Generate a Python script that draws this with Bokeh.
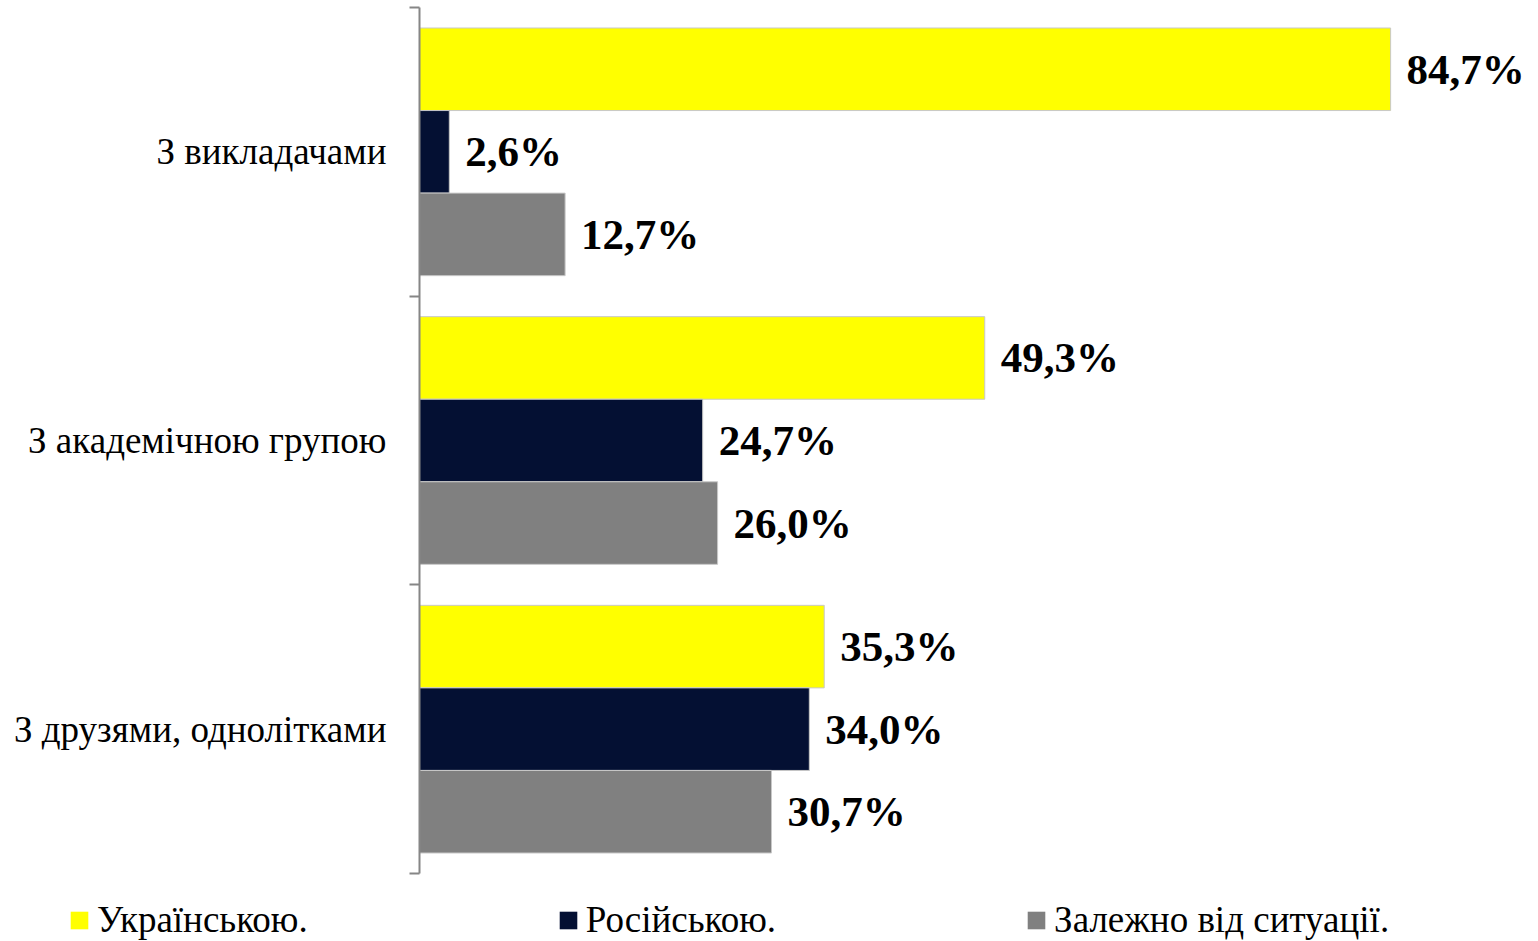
from bokeh.plotting import figure
from bokeh.layouts import column, row
from bokeh.models import Range1d, FixedTicker, Legend, LegendItem, ColumnDataSource
from bokeh.core.properties import value
from bokeh.embed import file_html
from bokeh.resources import INLINE

categories = ["З викладачами", "З академічною групою", "З друзями, однолітками"]
series = ["Українською.", "Російською.", "Залежно від ситуації."]
ukrainian = [84.7, 49.3, 35.3]
russian = [2.6, 24.7, 34.0]
situation = [12.7, 26.0, 30.7]
colors = ["#FFFF00", "#041033", "#808080"]

values_by_series = [ukrainian, russian, situation]
BAR_H = 0.286
offsets = [-BAR_H, 0.0, BAR_H]

p = figure(width=1530, height=893, output_backend="svg", toolbar_location=None,
           x_range=Range1d(0, 96.9), y_range=Range1d(3, 0),
           min_border_left=419, min_border_right=0, min_border_top=7, min_border_bottom=20)
p.outline_line_color = None
p.xgrid.visible = False
p.ygrid.visible = False
p.xaxis.visible = False

sources = []
for vals, off, col in zip(values_by_series, offsets, colors):
    ys = [i + 0.5 + off for i in range(len(categories))]
    src = ColumnDataSource(dict(y=ys, v=vals, lab=[f"{x:.1f}%".replace(".", ",") for x in vals]))
    sources.append(src)
    p.hbar(y="y", right="v", left=0, height=BAR_H, source=src,
           fill_color=col, line_color="#c8c8c8", line_width=1)
    p.text(x="v", y="y", text="lab", source=src, x_offset=16,
           text_align="left", text_baseline="middle",
           text_font=value("Liberation Serif"), text_font_style="bold",
           text_font_size="43px", text_color="black")

yax = p.yaxis[0]
yax.ticker = FixedTicker(ticks=[0.5, 1.5, 2.5], minor_ticks=[0, 1, 2, 3])
yax.major_label_overrides = {0.5: categories[0], 1.5: categories[1], 2.5: categories[2]}
yax.major_tick_line_color = None
yax.major_tick_out = 0
yax.major_tick_in = 0
yax.minor_tick_out = 10
yax.minor_tick_in = 0
yax.minor_tick_line_color = "#868686"
yax.minor_tick_line_width = 2
yax.axis_line_color = "#868686"
yax.axis_line_width = 2
yax.major_label_standoff = 23
yax.major_label_text_font = "Liberation Serif"
yax.major_label_text_font_size = "37px"
yax.major_label_text_color = "black"

# legend strip below the chart (its renderers are hidden; only their legend swatches show)
lg = figure(width=1530, height=48, output_backend="svg", toolbar_location=None,
            x_range=Range1d(0, 1), y_range=Range1d(0, 1),
            min_border_left=0, min_border_right=0, min_border_top=0, min_border_bottom=0)
lg.outline_line_color = None
lg.xaxis.visible = False
lg.yaxis.visible = False
lg.grid.visible = False
legend_renderers = []
for src, c in zip(sources, colors):
    r = lg.hbar(y="y", right="v", left=0, height=BAR_H, source=src, fill_color=c, line_color=None)
    r.visible = False
    legend_renderers.append(r)
legend = Legend(items=[LegendItem(label=s, renderers=[r]) for s, r in zip(series, legend_renderers)],
                orientation="horizontal", location=(68, 0),
                glyph_width=22, glyph_height=22, label_standoff=7, spacing=249,
                padding=0, margin=0, border_line_color=None, background_fill_alpha=0,
                inactive_fill_alpha=0,
                label_text_font="Liberation Serif", label_text_font_size="37px",
                label_text_color="black")
lg.add_layout(legend, "center")

open("out.html", "w").write(file_html(column(p, row(lg), spacing=0), INLINE))
